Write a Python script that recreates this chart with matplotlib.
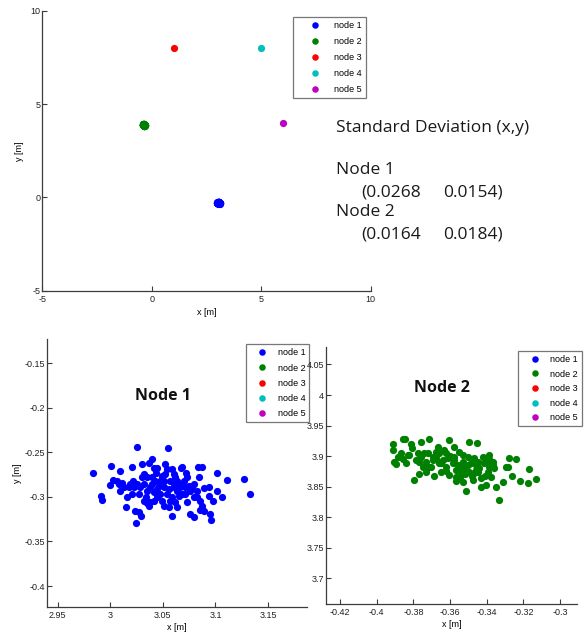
import matplotlib
matplotlib.use("Agg")
import matplotlib.pyplot as plt
from matplotlib.ticker import FuncFormatter

# node positions [m]; nodes 1 and 2 are repeated position estimates
node_names = ["node 1", "node 2", "node 3", "node 4", "node 5"]
node_colors = [(0, 0, 1), (0, 0.5, 0), (1, 0, 0), (0, 0.75, 0.75), (0.75, 0, 0.75)]

node1_x = [2.984, 2.991, 2.992, 3.000, 3.001, 3.003, 3.009, 3.008, 3.0095, 3.015,
           3.016, 3.0127, 3.0175, 3.0206, 3.022, 3.0235, 3.0248, 3.0254, 3.0295, 3.027,
           3.030, 3.0318, 3.0286, 3.027, 3.0324, 3.0343, 3.035, 3.0365, 3.040, 3.0413,
           3.0397, 3.038, 3.042, 3.0444, 3.046, 3.0438, 3.0476, 3.0508, 3.052, 3.0546,
           3.0524, 3.054, 3.0508, 3.0587, 3.0571, 3.0603, 3.0603, 3.0587, 3.0635, 3.065,
           3.067, 3.0683, 3.0718, 3.0683, 3.0714, 3.073, 3.0756, 3.0762, 3.0794, 3.0794,
           3.0832, 3.0873, 3.0845, 3.0826, 3.085, 3.0895, 3.0895, 3.0943, 3.0937, 3.0946,
           3.0959, 3.0972, 3.1016, 3.1016, 3.1064, 3.1105, 3.127, 3.1327, 3.0857, 3.0873,
           3.0349, 3.0381, 3.0413, 3.0444, 3.0476, 3.0492, 3.0556, 3.0571, 3.0619, 3.0635,
           3.0667, 3.0698, 3.0714, 3.0746, 3.0778, 3.0349, 3.0302, 3.0254, 3.0222, 3.0206,
           3.0444, 3.0492, 3.054, 3.0587, 3.0619, 3.0508, 3.0397, 3.0429, 3.0603, 3.065,
           3.0794, 3.0826, 3.073, 3.0318, 3.0365, 3.0064, 3.0111, 3.019, 3.0556, 3.0635]
node1_y = [-0.2735, -0.2996, -0.303, -0.2866, -0.2657, -0.2806, -0.2709, -0.2858, -0.2933, -0.311,
           -0.3007, -0.2895, -0.2895, -0.2664, -0.282, -0.3157, -0.329, -0.2437, -0.3212, -0.3175,
           -0.2634, -0.2746, -0.2895, -0.297, -0.2858, -0.3007, -0.3074, -0.2616, -0.2571, -0.2672,
           -0.2783, -0.3063, -0.3045, -0.3007, -0.2877, -0.2728, -0.2821, -0.2895, -0.2627, -0.2452,
           -0.2746, -0.297, -0.31, -0.3212, -0.2821, -0.2746, -0.2895, -0.3007, -0.2933, -0.2858,
           -0.2672, -0.266, -0.2735, -0.297, -0.2895, -0.3063, -0.3194, -0.2933, -0.2858, -0.3224,
           -0.266, -0.266, -0.2783, -0.2933, -0.3145, -0.3157, -0.2903, -0.2895, -0.2989, -0.3194,
           -0.3257, -0.3045, -0.2727, -0.2933, -0.3007, -0.2806, -0.2795, -0.2963, -0.3045, -0.31,
           -0.2933, -0.2895, -0.2951, -0.2914, -0.297, -0.3045, -0.2914, -0.3045, -0.3063, -0.2821,
           -0.2895, -0.2821, -0.297, -0.2877, -0.2895, -0.2783, -0.2783, -0.2858, -0.2895, -0.297,
           -0.2672, -0.2765, -0.269, -0.269, -0.2783, -0.2821, -0.2858, -0.2821, -0.2858, -0.2989,
           -0.3007, -0.3007, -0.2783, -0.3045, -0.31, -0.282, -0.284, -0.2858, -0.3119, -0.3119]

node2_x = [-0.3913, -0.3913, -0.3904, -0.3895, -0.3885, -0.3858, -0.3845, -0.3858, -0.3867, -0.3831,
           -0.3813, -0.3807, -0.3795, -0.3785, -0.3767, -0.3758, -0.3767, -0.3740, -0.3731, -0.3713,
           -0.3722, -0.3704, -0.3695, -0.3685, -0.3676, -0.3667, -0.3658, -0.3649, -0.3640, -0.3631,
           -0.3622, -0.3613, -0.3604, -0.3604, -0.3585, -0.3576, -0.3576, -0.3567, -0.3558, -0.3549,
           -0.3545, -0.3531, -0.3522, -0.3513, -0.3504, -0.3495, -0.3495, -0.3485, -0.3476, -0.3467,
           -0.3458, -0.3455, -0.3449, -0.3440, -0.3431, -0.3422, -0.3413, -0.3404, -0.3395, -0.3385,
           -0.3385, -0.3376, -0.3367, -0.3358, -0.3349, -0.3331, -0.3313, -0.3295, -0.3285, -0.3280,
           -0.3262, -0.3240, -0.3218, -0.3176, -0.3167, -0.3131, -0.3385, -0.3367, -0.3404, -0.3431,
           -0.3467, -0.3531, -0.3567, -0.3622, -0.3658, -0.3676, -0.3695, -0.3713, -0.3731, -0.3749,
           -0.3758, -0.3776, -0.3822, -0.3840, -0.355, -0.352, -0.350, -0.348, -0.346, -0.358,
           -0.362, -0.345, -0.341, -0.339, -0.357, -0.353, -0.365, -0.360]
node2_y = [3.9195, 3.9098, 3.8908, 3.8870, 3.8989, 3.9288, 3.9288, 3.8946, 3.9043, 3.9016,
           3.9206, 3.9125, 3.8609, 3.8935, 3.8908, 3.9223, 3.8707, 3.9043, 3.8908, 3.9277,
           3.9043, 3.8826, 3.8989, 3.8674, 3.9071, 3.9152, 3.9043, 3.8745, 3.8935, 3.9098,
           3.8826, 3.8962, 3.9272, 3.8690, 3.8881, 3.9152, 3.8989, 3.8772, 3.8853, 3.9071,
           3.8663, 3.8908, 3.8799, 3.8435, 3.8989, 3.9233, 3.8745, 3.8881, 3.8609, 3.8962,
           3.8853, 3.9217, 3.8745, 3.8799, 3.8500, 3.8989, 3.8881, 3.8528, 3.8745, 3.8826,
           3.8908, 3.8663, 3.8853, 3.8799, 3.8500, 3.8283, 3.8582, 3.8826, 3.8826, 3.8962,
           3.8674, 3.8957, 3.8587, 3.8566, 3.8794, 3.8620, 3.9016, 3.8908, 3.8962, 3.8636,
           3.8718, 3.9016, 3.8663, 3.9043, 3.8881, 3.8962, 3.8935, 3.8826, 3.8745, 3.8826,
           3.8989, 3.9043, 3.9016, 3.8881, 3.875, 3.870, 3.885, 3.868, 3.878, 3.893,
           3.875, 3.890, 3.868, 3.895, 3.860, 3.857, 3.888, 3.900]

fixed_x = [1.0, 5.0, 6.0]   # nodes 3, 4, 5
fixed_y = [8.0, 8.0, 4.0]

# standard deviation (x, y) of nodes 1 and 2
std_x = [0.0268, 0.0164]
std_y = [0.0154, 0.0184]

xs = [node1_x, node2_x] + [[v] for v in fixed_x]
ys = [node1_y, node2_y] + [[v] for v in fixed_y]

axis_gray = "#3c3c3c"
tick_font = {"family": "Liberation Sans", "size": 6.5}
MS = 5.2


def draw_nodes(ax):
    for x, y, c, name in zip(xs, ys, node_colors, node_names):
        ax.plot(x, y, "o", color=c, ms=MS, mec=c, mew=0, label=name, ls="none")


def style_axes(ax):
    for side in ["top", "right"]:
        ax.spines[side].set_visible(False)
    for side in ["left", "bottom"]:
        ax.spines[side].set_color(axis_gray)
        ax.spines[side].set_linewidth(0.9)
    ax.tick_params(direction="in", length=3.5, width=0.8, colors=axis_gray, labelsize=6.5)
    ax.tick_params(axis="x", pad=3)
    ax.tick_params(axis="y", pad=1.2)
    for lab in ax.get_xticklabels() + ax.get_yticklabels():
        lab.set_fontfamily("Liberation Sans")
        lab.set_color("#222222")
    fmt = FuncFormatter(lambda v, p: "%g" % round(v, 4))
    ax.xaxis.set_major_formatter(fmt)
    ax.yaxis.set_major_formatter(fmt)


def add_legend(ax, fig, x0, y0, hl, pad, spacing):
    leg = ax.legend(loc="upper left", bbox_to_anchor=(x0, y0), bbox_transform=fig.transFigure,
                    borderaxespad=0, fancybox=False, frameon=True, handlelength=hl,
                    handletextpad=pad, labelspacing=spacing, borderpad=0.45, markerscale=0.9,
                    prop={"family": "Liberation Sans", "size": 6.5})
    leg.get_frame().set_edgecolor("#555555")
    leg.get_frame().set_linewidth(0.9)
    return leg


fig = plt.figure(figsize=(5.84, 6.34), dpi=100)

# overview of all nodes
ax_top = fig.add_axes([0.0724, 0.5415, 0.5623, 0.4412])
draw_nodes(ax_top)
ax_top.set_xlim(-5, 10)
ax_top.set_ylim(-5, 10)
ax_top.set_xticks([-5, 0, 5, 10])
ax_top.set_yticks([-5, 0, 5, 10])
style_axes(ax_top)
ax_top.set_xlabel("x [m]", fontdict=tick_font, labelpad=3)
ax_top.set_ylabel("y [m]", fontdict=tick_font, labelpad=5)
add_legend(ax_top, fig, 0.5022, 0.9737, 4.0, 0.1, 0.78)

# zoom on node 1
ax1 = fig.add_axes([0.0800, 0.0426, 0.4457, 0.4227])
draw_nodes(ax1)
ax1.set_xlim(2.9396, 3.187)
ax1.set_ylim(-0.4235, -0.123)
ax1.set_xticks([2.95, 3.0, 3.05, 3.1, 3.15])
ax1.set_yticks([-0.4, -0.35, -0.3, -0.25, -0.2, -0.15])
style_axes(ax1)
ax1.set_xlabel("x [m]", fontdict=tick_font, labelpad=2)
ax1.set_ylabel("y [m]", fontdict=tick_font, labelpad=1.5)
add_legend(ax1, fig, 0.4207, 0.4569, 2.8, 0.3, 0.68)

# zoom on node 2
ax2 = fig.add_axes([0.5577, 0.0473, 0.4308, 0.4058])
draw_nodes(ax2)
ax2.set_xlim(-0.4278, -0.2906)
ax2.set_ylim(3.658, 4.079)
ax2.set_xticks([-0.42, -0.4, -0.38, -0.36, -0.34, -0.32, -0.3])
ax2.set_yticks([3.7, 3.75, 3.8, 3.85, 3.9, 3.95, 4.0, 4.05])
style_axes(ax2)
ax2.set_xlabel("x [m]", fontdict=tick_font, labelpad=2)
add_legend(ax2, fig, 0.8875, 0.4464, 2.8, 0.3, 0.62)

# annotations
note_font = {"family": "Open Sans", "size": 12.5, "color": "#1a1a1a"}
fig.text(0.5753, 0.7986, "Standard Deviation (x,y)", va="center", ha="left", **note_font)
row_y = [(0.7319, 0.6961), (0.6651, 0.6304)]
for i, (yn, yv) in enumerate(row_y):
    fig.text(0.5753, yn, "Node %d" % (i + 1), va="center", ha="left", **note_font)
    fig.text(0.6182, yv, "(%.4f" % std_x[i], va="center", ha="left", **note_font)
    fig.text(0.7591, yv, "%.4f)" % std_y[i], va="center", ha="left", **note_font)

title_font = {"family": "Open Sans", "size": 11.5, "weight": "bold", "color": "#111111"}
fig.text(0.2791, 0.3754, "Node 1", ha="center", va="center", **title_font)
fig.text(0.7574, 0.3875, "Node 2", ha="center", va="center", **title_font)

fig.savefig("out.png", dpi=100)
